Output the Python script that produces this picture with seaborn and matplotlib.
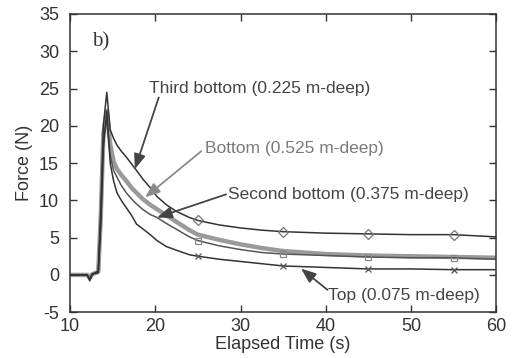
import numpy as np
import pandas as pd
import matplotlib
matplotlib.use("Agg")
import matplotlib.pyplot as plt
import seaborn as sns

# elapsed time (s) and force readings (N)
time_s = [10, 12, 12.3, 12.6, 13.3, 13.6, 13.9, 14.3, 14.7, 15.1, 15.5, 16.0, 16.6, 17.2,
          17.8, 18.5, 19.4, 20.2, 21.3, 22.5, 24.0, 25, 27.5, 30, 32.5, 35, 40, 45, 50, 55, 60]
third_bottom = [0, 0, -0.6, 0.1, 0.5, 9, 20, 24.5, 19.5, 18.3, 17.4, 16.6, 15.8, 14.9,
                14.0, 12.9, 11.7, 10.5, 9.4, 8.5, 7.7, 7.3, 6.7, 6.3, 6.0, 5.8, 5.6, 5.5, 5.4, 5.4, 5.1]
bottom = [0, 0, -0.4, 0.1, 0.4, 8, 19, 22, 17.5, 15.2, 14.2, 13.4, 12.6, 11.7,
          11.0, 10.2, 9.4, 8.8, 8.0, 7.1, 6.0, 5.4, 4.7, 4.1, 3.6, 3.2, 2.8, 2.6, 2.5, 2.4, 2.3]
second_bottom = [0, 0, -0.5, 0.1, 0.4, 7, 18, 21, 16, 14.0, 13.1, 12.0, 11.0, 10.2,
                 9.5, 8.8, 8.1, 7.7, 6.9, 6.1, 5.1, 4.6, 3.9, 3.4, 3.0, 2.8, 2.6, 2.4, 2.3, 2.3, 2.1]
top = [0, 0, -0.8, 0.1, 0.3, 7, 17, 22, 15, 12.6, 11.0, 10.0, 9.0, 8.0,
       6.8, 6.2, 5.4, 4.6, 3.8, 3.3, 2.7, 2.5, 2.1, 1.8, 1.5, 1.2, 1.0, 0.8, 0.8, 0.7, 0.7]

marker_times = [25, 35, 45, 55]

labels = ["Third bottom (0.225 m-deep)", "Bottom (0.525 m-deep)",
          "Second bottom (0.375 m-deep)", "Top (0.075 m-deep)"]

df = pd.DataFrame({"t": time_s, "third": third_bottom, "bottom": bottom,
                   "second": second_bottom, "top": top})
mark_idx = [time_s.index(m) for m in marker_times]

sns.set_style("ticks")
plt.rcParams["font.family"] = ["Liberation Sans", "DejaVu Sans"]
plt.rcParams["axes.unicode_minus"] = False

fig = plt.figure(figsize=(5.12, 3.58), dpi=100)
ax = fig.add_axes([0.137, 0.128, 0.832, 0.833])

# thick light gray bottom line first, others over it
sns.lineplot(data=df, x="t", y="bottom", ax=ax, color="#9a9a9a", lw=3.2)
sns.lineplot(data=df, x="t", y="second", ax=ax, color="#555555", lw=1.1,
             marker="s", markevery=mark_idx, ms=5, mfc="none", mec="#888888", mew=0.9)
sns.lineplot(data=df, x="t", y="third", ax=ax, color="#333333", lw=1.1,
             marker="D", markevery=mark_idx, ms=5, mfc="none", mec="#777777", mew=0.9)
sns.lineplot(data=df, x="t", y="top", ax=ax, color="#333333", lw=1.1,
             marker="x", markevery=mark_idx, ms=5, mec="#555555", mew=0.9)

ax.set_xlim(10, 60)
ax.set_ylim(-5, 35)
ax.set_xticks(range(10, 61, 10))
ax.set_yticks(range(-5, 36, 5))
ax.tick_params(direction="in", top=True, right=True, length=5, width=1,
               labelsize=13, colors="#333333")
ax.tick_params(axis="y", pad=8)
ax.tick_params(axis="x", pad=4)
for sp in ax.spines.values():
    sp.set_visible(True)
    sp.set_color("#333333")
    sp.set_linewidth(1.1)
ax.set_xlabel("Elapsed Time (s)", fontsize=13, color="#333333", labelpad=1)
ax.set_ylabel("Force (N)", fontsize=13, color="#333333", labelpad=4)

ax.text(12.6, 31.3, "b)", fontsize=15, family="Liberation Serif",
        color="#333333", va="center")

# labels with arrows
arrow_dark = dict(arrowstyle="-|>,head_length=0.9,head_width=0.35", color="#444444",
                  lw=1.3, shrinkA=0, shrinkB=0)
arrow_gray = dict(arrow_dark, color="#8a8a8a")

ax.text(19.2, 25.0, labels[0], fontsize=12.5, color="#444444", va="center")
ax.annotate("", xy=(17.6, 14.2), xytext=(20.4, 23.8), arrowprops=arrow_dark)

ax.text(25.8, 16.9, labels[1], fontsize=12.5, color="#7a7a7a", va="center")
ax.annotate("", xy=(18.8, 10.4), xytext=(25.4, 16.6), arrowprops=arrow_gray)

ax.text(28.5, 10.8, labels[2], fontsize=12.5, color="#444444", va="center")
ax.annotate("", xy=(20.2, 7.7), xytext=(28.3, 10.8), arrowprops=arrow_dark)

ax.text(40.3, -2.8, labels[3], fontsize=12.5, color="#444444", va="center")
ax.annotate("", xy=(37.1, 0.85), xytext=(40.2, -2.0), arrowprops=arrow_dark)

fig.savefig("out.png", dpi=100)
